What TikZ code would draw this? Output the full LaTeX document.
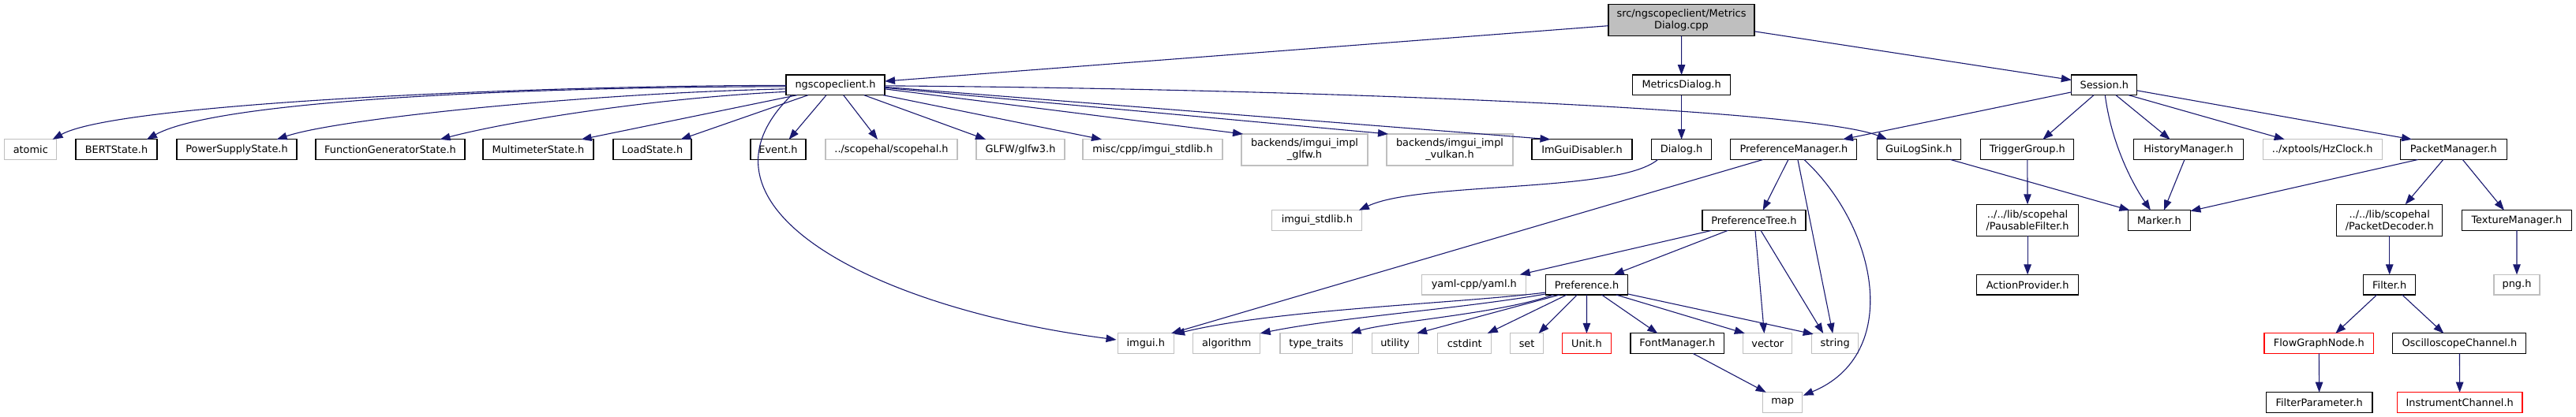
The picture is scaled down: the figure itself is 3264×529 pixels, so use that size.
\documentclass[tikz,border=0pt]{standalone}
\usepackage{fontspec}
\setmainfont{DejaVu Sans}
\usetikzlibrary{arrows.meta,calc}
\definecolor{edgec}{RGB}{25,25,112}
\definecolor{grayc}{RGB}{191,191,191}
\definecolor{fillc}{RGB}{191,191,191}
\newcommand\nfont{\fontsize{12.9pt}{15pt}\selectfont}
\begin{document}
\begin{tikzpicture}[x=1pt,y=-1pt,
  nd/.style={draw=black,line width=1.1pt,inner sep=0pt,outer sep=0pt,minimum height=25.6pt,font=\nfont,align=center,fill=white},
  gn/.style={nd,draw=grayc},
  rn/.style={nd,draw=red},
  ed/.style={draw=edgec,line width=1.1pt,-{Triangle[length=13pt,width=9.5pt]}}]
\useasboundingbox[fill=white] (0,0) rectangle (3264,529);
% row 0/1
\node[nd,fill=fillc,minimum width=185pt,minimum height=40pt] (top) at (2130.5,25.7) {src/ngscopeclient/Metrics\\Dialog.cpp};
\node[nd,minimum width=125pt] (ngs) at (1058.5,107.85) {ngscopeclient.h};
\node[nd,minimum width=124pt] (mdh) at (2130.6,107.85) {MetricsDialog.h};
\node[nd,minimum width=83pt] (ses) at (2666.3,107.85) {Session.h};
% row 2
\node[gn,minimum width=66pt] (atomic) at (38.8,189.65) {atomic};
\node[nd,minimum width=103pt] (bert) at (147.5,189.65) {BERTState.h};
\node[nd,minimum width=152pt] (pss) at (300,189.65) {PowerSupplyState.h};
\node[nd,minimum width=189pt] (fgs) at (494.5,189.65) {FunctionGeneratorState.h};
\node[nd,minimum width=140pt] (mms) at (682,189.65) {MultimeterState.h};
\node[nd,minimum width=99pt] (lds) at (826.5,189.65) {LoadState.h};
\node[nd,minimum width=70pt] (evt) at (986,189.65) {Event.h};
\node[gn,minimum width=167pt] (sch) at (1129.5,189.65) {../scopehal/scopehal.h};
\node[gn,minimum width=112pt] (glfw) at (1293,189.65) {GLFW/glfw3.h};
\node[gn,minimum width=177pt] (misc) at (1460.5,189.65) {misc/cpp/imgui\_stdlib.h};
\node[gn,minimum width=160pt,minimum height=40pt] (big) at (1653,190) {backends/imgui\_impl\\\_glfw.h};
\node[gn,minimum width=160pt,minimum height=40pt] (biv) at (1837,190) {backends/imgui\_impl\\\_vulkan.h};
\node[nd,minimum width=127pt] (igd) at (2004.5,189.65) {ImGuiDisabler.h};
\node[nd,minimum width=76pt] (dlg) at (2130.6,189.65) {Dialog.h};
\node[nd,minimum width=160pt] (pm) at (2272.9,189.65) {PreferenceManager.h};
\node[nd,minimum width=106pt] (gls) at (2431.3,189.65) {GuiLogSink.h};
\node[nd,minimum width=118pt] (tg) at (2568.8,189.65) {TriggerGroup.h};
\node[nd,minimum width=139pt] (hm) at (2773,189.65) {HistoryManager.h};
\node[gn,minimum width=151pt] (hz) at (2942.7,189.65) {../xptools/HzClock.h};
\node[nd,minimum width=135pt] (pkm) at (3108.8,189.65) {PacketManager.h};
% row 3
\node[gn,minimum width=114pt] (isl) at (1668.9,279.5) {imgui\_stdlib.h};
\node[nd,minimum width=131pt] (pt) at (2222.5,279.5) {PreferenceTree.h};
\node[nd,minimum width=129pt,minimum height=40pt] (pf) at (2569.1,279.3) {../../lib/scopehal\\/PausableFilter.h};
\node[nd,minimum width=79pt] (mk) at (2735.9,279.5) {Marker.h};
\node[nd,minimum width=134pt,minimum height=40pt] (pd) at (3027.7,279.3) {../../lib/scopehal\\/PacketDecoder.h};
\node[nd,minimum width=139pt] (tm) at (3188.9,279.5) {TextureManager.h};
% row 4
\node[gn,minimum width=132pt] (yaml) at (1867.8,361.2) {yaml-cpp/yaml.h};
\node[nd,minimum width=104.5pt] (pref) at (2010.5,361.2) {Preference.h};
\node[nd,minimum width=129pt] (ap) at (2569.1,361.2) {ActionProvider.h};
\node[nd,minimum width=66pt] (flt) at (3027.7,361.2) {Filter.h};
\node[gn,minimum width=58pt] (png) at (3189,361.2) {png.h};
% row 5
\node[gn,minimum width=70.5pt] (imgui) at (1451.8,435.7) {imgui.h};
\node[gn,minimum width=85pt] (alg) at (1554.2,435.7) {algorithm};
\node[gn,minimum width=91.5pt] (tt) at (1667.7,435.7) {type\_traits};
\node[gn,minimum width=59pt] (util) at (1767.6,435.7) {utility};
\node[gn,minimum width=68pt] (cst) at (1855.8,435.7) {cstdint};
\node[gn,minimum width=42pt] (set) at (1934.6,435.7) {set};
\node[rn,minimum width=62pt] (unit) at (2010.4,435.7) {Unit.h};
\node[nd,minimum width=118.6pt] (fm) at (2125.3,435.7) {FontManager.h};
\node[gn,minimum width=62pt] (vec) at (2239.8,435.7) {vector};
\node[gn,minimum width=59pt] (str) at (2325.2,435.7) {string};
\node[rn,minimum width=138.6pt] (fgn) at (2938.3,435.7) {FlowGraphNode.h};
\node[nd,minimum width=169pt] (osc) at (3116.4,435.7) {OscilloscopeChannel.h};
% row 6
\node[gn,minimum width=50pt] (map) at (2258.7,510.5) {map};
\node[nd,minimum width=134.6pt] (fp) at (2938.7,510.5) {FilterParameter.h};
\node[rn,minimum width=158.6pt] (ic) at (3116.7,510.5) {InstrumentChannel.h};
% edges from top
\draw[ed] (top) -- (ngs);
\draw[ed] (top) -- (mdh);
\draw[ed] (top) -- (ses);
% edges from ngscopeclient.h
\draw[ed] ($(ngs.west)+(0,0.6)$) .. controls (700,108) and (150,130) .. ($(atomic.north)+(27.8,0)$);
\draw[ed] ($(ngs.west)+(0,2)$) .. controls (700,110) and (280,125) .. ($(bert.north)+(38.5,0)$);
\draw[ed] ($(ngs.west)+(0,5)$) .. controls (750,118) and (430,150) .. ($(pss.north)+(50.7,0)$);
\draw[ed] ($(ngs.west)+(0,8.5)$) .. controls (820,125) and (640,155) .. ($(fgs.north)+(63,0)$);
\draw[ed] ($(ngs.south west)+(14,0)$) -- ($(mms.north)+(54.6,0)$);
\draw[ed] ($(ngs.south)+(-34.5,0)$) -- ($(lds.north)+(36,0)$);
\draw[ed] ($(ngs.south)+(-11.5,0)$) -- ($(evt.north)+(13.6,0)$);
\draw[ed] ($(ngs.south)+(10.2,0)$) -- ($(sch.north)+(-17.5,0)$);
\draw[ed] ($(ngs.south)+(36.2,0)$) -- ($(glfw.north)+(-44,0)$);
\draw[ed] ($(ngs.south east)+(-2,0)$) -- ($(misc.north)+(-64.5,0)$);
\draw[ed] ($(ngs.east)+(0,5)$) -- ($(big.north west)+(2,0)$);
\draw[ed] ($(ngs.east)+(0,3.5)$) -- ($(biv.north west)+(2,0)$);
\draw[ed] ($(ngs.east)+(0,2.5)$) -- ($(igd.north)+(-40,0)$);
\draw[ed] ($(ngs.east)+(0,1)$) .. controls (1700,113) and (2300,140) .. ($(gls.north)+(-40,0)$);
\draw[ed] ($(ngs.south west)+(7,0)$) .. controls (860,260) and (1100,390) .. ($(imgui.west)+(-2,-4.7)$);
% MetricsDialog / Dialog
\draw[ed] (mdh) -- (dlg);
\draw[ed] ($(dlg.south west)+(8,0)$) .. controls (2050,245) and (1800,230) .. ($(isl.north east)+(-4,0)$);
% Session.h
\draw[ed] ($(ses.west)+(0,9)$) -- ($(pm.north)+(62,0)$);
\draw[ed] ($(ses.south)+(-13.3,0)$) -- ($(tg.north)+(19.6,0)$);
\draw[ed] ($(ses.south)+(1,0)$) .. controls (2675,180) and (2700,230) .. ($(mk.north)+(-11,0)$);
\draw[ed] ($(ses.south)+(14.7,0)$) -- ($(hm.north)+(-23.4,0)$);
\draw[ed] ($(ses.south east)+(-10.8,0)$) -- ($(hz.north)+(-48,0)$);
\draw[ed] ($(ses.east)+(0,7)$) -- ($(pkm.north)+(-52.8,0)$);
% PreferenceManager.h
\draw[ed] ($(pm.south west)+(41,0)$) -- ($(imgui.north east)+(-3,0)$);
\draw[ed] ($(pm.south)+(-7,0)$) -- ($(pt.north)+(11.2,0)$);
\draw[ed] ($(pm.south)+(5,0)$) -- ($(str.north)+(-3,0)$);
\draw[ed] ($(pm.south)+(13,0)$) .. controls (2380,290) and (2410,450) .. ($(map.north east)+(1,4)$);
% GuiLogSink, HistoryManager, PacketManager
\draw[ed] ($(gls.south)+(40,0)$) -- ($(mk.north west)+(2,0)$);
\draw[ed] ($(hm.south)+(-5,0)$) -- ($(mk.north)+(6,0)$);
\draw[ed] ($(pkm.south)+(-45,0)$) -- ($(mk.north east)+(0,1)$);
\draw[ed] (tg) -- (pf);
\draw[ed] ($(pkm.south)+(-13,0)$) -- ($(pd.north)+(20,0)$);
\draw[ed] ($(pkm.south)+(11.5,0)$) -- ($(tm.north)+(-16,0)$);
\draw[ed] (pf) -- (ap);
\draw[ed] (pd) -- (flt);
\draw[ed] (tm) -- (png);
% PreferenceTree.h
\draw[ed] ($(pt.south west)+(12,0)$) -- ($(yaml.north east)+(-8,0)$);
\draw[ed] ($(pt.south)+(-33,0)$) -- ($(pref.north east)+(-18,0)$);
\draw[ed] ($(pt.south)+(1.5,0)$) -- ($(vec.north)+(-4.4,0)$);
\draw[ed] ($(pt.south)+(8.5,0)$) -- ($(str.north)+(-15,0)$);
% Preference.h
\draw[ed] ($(pref.south west)+(0,-3)$) .. controls (1850,385) and (1620,392) .. ($(imgui.north east)+(1,1)$);
\draw[ed] ($(pref.south west)+(0,-1)$) .. controls (1850,392) and (1700,402) .. ($(alg.north east)+(0,0)$);
\draw[ed] ($(pref.south west)+(10,0)$) .. controls (1900,398) and (1760,408) .. ($(tt.north east)+(-2,0)$);
\draw[ed] ($(pref.south west)+(18,0)$) -- ($(util.north east)+(-2,0)$);
\draw[ed] ($(pref.south west)+(27,0)$) -- ($(cst.north east)+(-5,0)$);
\draw[ed] ($(pref.south west)+(40,0)$) -- ($(set.north)+(15,0)$);
\draw[ed] (pref) -- (unit);
\draw[ed] ($(pref.south)+(19,0)$) -- ($(fm.north)+(-25,0)$);
\draw[ed] ($(pref.south east)+(-15,0)$) -- ($(vec.north west)+(2,0)$);
\draw[ed] ($(pref.south east)+(0,-1)$) -- ($(str.north west)+(2,1)$);
\draw[ed] ($(fm.south)+(20,0)$) -- ($(map.north)+(-21,0)$);
% Filter.h
\draw[ed] ($(flt.south)+(-16,0)$) -- ($(fgn.north)+(21,0)$);
\draw[ed] ($(flt.south)+(16,0)$) -- ($(osc.north)+(-20,0)$);
\draw[ed] (fgn) -- (fp);
\draw[ed] (osc) -- (ic);
\end{tikzpicture}
\end{document}
